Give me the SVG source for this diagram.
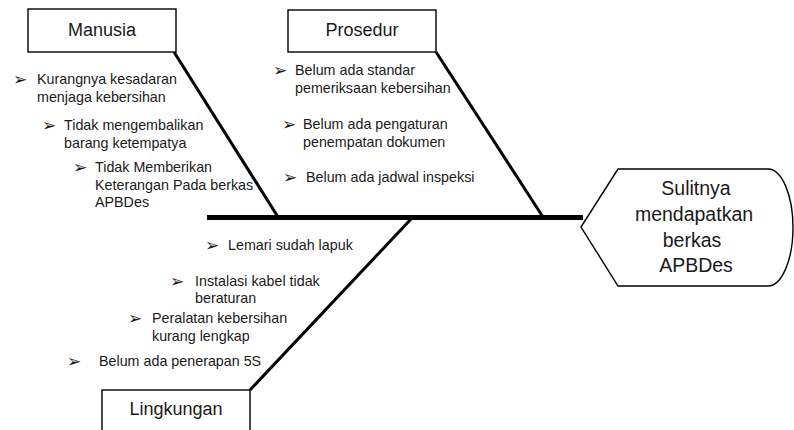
<svg xmlns="http://www.w3.org/2000/svg" width="794" height="430" viewBox="0 0 794 430">
<defs>
<style>
.box{fill:#ffffff;stroke:#000000;stroke-width:1.4}
.lbl{font-family:"Liberation Sans",Arial,sans-serif;font-size:18px;fill:#1a1a1a;text-anchor:middle}
.head{font-family:"Liberation Sans",Arial,sans-serif;font-size:19.5px;fill:#1a1a1a;text-anchor:middle}
.t{font-family:"Liberation Sans",Arial,sans-serif;font-size:14.3px;fill:#1a1a1a}
.b{font-family:"DejaVu Sans",sans-serif;font-size:17px;fill:#1a1a1a}
.bone{stroke:#000000;stroke-width:3;fill:none;stroke-linecap:butt}
.spine{stroke:#000000;stroke-width:5;fill:none}
</style>
</defs>
<rect width="794" height="430" fill="#ffffff"/>
<g id="connectors">
<line class="spine" x1="207" y1="217.5" x2="583" y2="217.5"/>
<line class="bone" x1="174" y1="52" x2="278" y2="217"/>
<line class="bone" x1="436" y1="52" x2="543" y2="217"/>
<line class="bone" x1="412" y1="218" x2="250" y2="390"/>
</g>
<g id="manusia">
<rect class="box" x="28" y="9" width="148" height="43"/>
<text class="lbl" x="102" y="36">Manusia</text>
<text class="b" x="13" y="85">➢</text>
<text class="t" x="37" y="84">Kurangnya kesadaran</text>
<text class="t" x="37" y="101.5">menjaga kebersihan</text>
<text class="b" x="42" y="131">➢</text>
<text class="t" x="64" y="130">Tidak mengembalikan</text>
<text class="t" x="64" y="147.5">barang ketempatya</text>
<text class="b" x="73" y="173">➢</text>
<text class="t" x="95" y="172">Tidak Memberikan</text>
<text class="t" x="95" y="189.5">Keterangan Pada berkas</text>
<text class="t" x="95" y="207">APBDes</text>
</g>
<g id="prosedur">
<rect class="box" x="288" y="10" width="148" height="42"/>
<text class="lbl" x="362" y="36">Prosedur</text>
<text class="b" x="273" y="76">➢</text>
<text class="t" x="295" y="75">Belum ada standar</text>
<text class="t" x="295" y="92.5">pemeriksaan kebersihan</text>
<text class="b" x="282" y="130">➢</text>
<text class="t" x="303" y="129">Belum ada pengaturan</text>
<text class="t" x="303" y="146.5">penempatan dokumen</text>
<text class="b" x="283" y="183">➢</text>
<text class="t" x="306" y="182">Belum ada jadwal inspeksi</text>
</g>
<g id="lingkungan">
<rect class="box" x="102" y="390" width="148" height="46"/>
<text class="lbl" x="176" y="415">Lingkungan</text>
<text class="b" x="205" y="251">➢</text>
<text class="t" x="228" y="250">Lemari sudah lapuk</text>
<text class="b" x="170" y="287">➢</text>
<text class="t" x="195" y="286">Instalasi kabel tidak</text>
<text class="t" x="195" y="303">beraturan</text>
<text class="b" x="128" y="324">➢</text>
<text class="t" x="152" y="323">Peralatan kebersihan</text>
<text class="t" x="152" y="340.5">kurang lengkap</text>
<text class="b" x="67" y="367">➢</text>
<text class="t" x="99" y="366">Belum ada penerapan 5S</text>
</g>
<g id="effect">
<path class="box" d="M581,227 L618,169 L768,169 A25,58.5 0 0 1 768,286 L618,286 Z"/>
<text class="head" x="696" y="195">Sulitnya</text>
<text class="head" x="694" y="221">mendapatkan</text>
<text class="head" x="692" y="246.5">berkas</text>
<text class="head" x="696" y="272">APBDes</text>
</g>
</svg>
